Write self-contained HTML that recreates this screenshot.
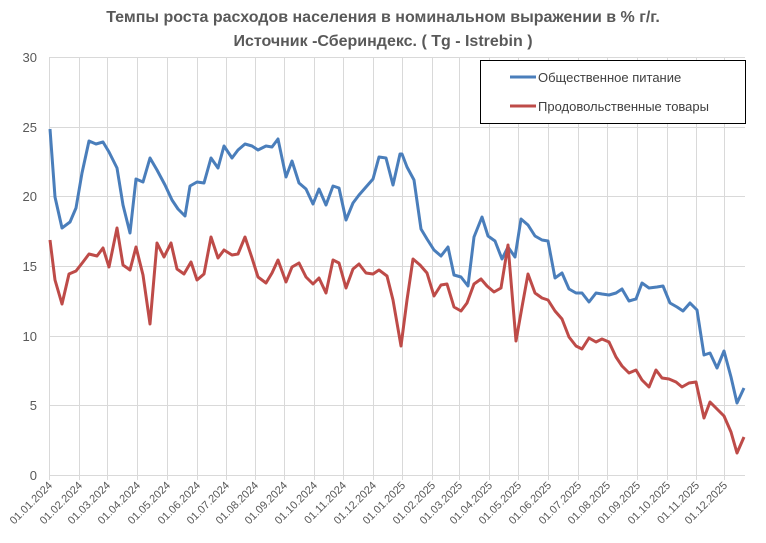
<!DOCTYPE html>
<html><head><meta charset="utf-8"><style>
html,body{margin:0;padding:0;background:#fff;}
svg{display:block;font-family:"Liberation Sans","DejaVu Sans",sans-serif;}
</style></head><body>
<svg width="766" height="543" viewBox="0 0 766 543" xmlns="http://www.w3.org/2000/svg">
<rect width="766" height="543" fill="#fff"/>
<text x="383" y="22" text-anchor="middle" font-size="16" font-weight="bold" fill="#595959">Темпы роста расходов населения в номинальном выражении в % г/г.</text>
<text x="383" y="46" text-anchor="middle" font-size="16" font-weight="bold" fill="#595959">Источник -Сбериндекс. ( Tg - Istrebin )</text>
<g stroke="#d9d9d9" stroke-width="1">
<line x1="49" y1="57.5" x2="745" y2="57.5"/>
<line x1="49" y1="127.5" x2="745" y2="127.5"/>
<line x1="49" y1="196.5" x2="745" y2="196.5"/>
<line x1="49" y1="266.5" x2="745" y2="266.5"/>
<line x1="49" y1="336.5" x2="745" y2="336.5"/>
<line x1="49" y1="405.5" x2="745" y2="405.5"/>
<line x1="49" y1="475.5" x2="745" y2="475.5"/>
<line x1="49.5" y1="57" x2="49.5" y2="480"/><line x1="79.5" y1="57" x2="79.5" y2="480"/><line x1="107.5" y1="57" x2="107.5" y2="480"/><line x1="137.5" y1="57" x2="137.5" y2="480"/><line x1="167.5" y1="57" x2="167.5" y2="480"/><line x1="197.5" y1="57" x2="197.5" y2="480"/><line x1="226.5" y1="57" x2="226.5" y2="480"/><line x1="255.5" y1="57" x2="255.5" y2="480"/><line x1="284.5" y1="57" x2="284.5" y2="480"/><line x1="314.5" y1="57" x2="314.5" y2="480"/><line x1="343.5" y1="57" x2="343.5" y2="480"/><line x1="373.5" y1="57" x2="373.5" y2="480"/><line x1="402.5" y1="57" x2="402.5" y2="480"/><line x1="432.5" y1="57" x2="432.5" y2="480"/><line x1="459.5" y1="57" x2="459.5" y2="480"/><line x1="489.5" y1="57" x2="489.5" y2="480"/><line x1="518.5" y1="57" x2="518.5" y2="480"/><line x1="548.5" y1="57" x2="548.5" y2="480"/><line x1="578.5" y1="57" x2="578.5" y2="480"/><line x1="607.5" y1="57" x2="607.5" y2="480"/><line x1="637.5" y1="57" x2="637.5" y2="480"/><line x1="667.5" y1="57" x2="667.5" y2="480"/><line x1="696.5" y1="57" x2="696.5" y2="480"/><line x1="724.5" y1="57" x2="724.5" y2="480"/>
</g>
<g font-size="13" fill="#595959" text-anchor="end">
<text x="37" y="62">30</text><text x="37" y="132">25</text><text x="37" y="201">20</text><text x="37" y="271">15</text><text x="37" y="341">10</text><text x="37" y="410">5</text><text x="37" y="480">0</text>
</g>
<g font-size="11" fill="#595959" text-anchor="end">
<text transform="translate(53,486) rotate(-45)">01.01.2024</text>
<text transform="translate(83,486) rotate(-45)">01.02.2024</text>
<text transform="translate(111,486) rotate(-45)">01.03.2024</text>
<text transform="translate(141,486) rotate(-45)">01.04.2024</text>
<text transform="translate(171,486) rotate(-45)">01.05.2024</text>
<text transform="translate(201,486) rotate(-45)">01.06.2024</text>
<text transform="translate(230,486) rotate(-45)">01.07.2024</text>
<text transform="translate(259,486) rotate(-45)">01.08.2024</text>
<text transform="translate(288,486) rotate(-45)">01.09.2024</text>
<text transform="translate(318,486) rotate(-45)">01.10.2024</text>
<text transform="translate(347,486) rotate(-45)">01.11.2024</text>
<text transform="translate(377,486) rotate(-45)">01.12.2024</text>
<text transform="translate(406,486) rotate(-45)">01.01.2025</text>
<text transform="translate(436,486) rotate(-45)">01.02.2025</text>
<text transform="translate(463,486) rotate(-45)">01.03.2025</text>
<text transform="translate(493,486) rotate(-45)">01.04.2025</text>
<text transform="translate(522,486) rotate(-45)">01.05.2025</text>
<text transform="translate(552,486) rotate(-45)">01.06.2025</text>
<text transform="translate(582,486) rotate(-45)">01.07.2025</text>
<text transform="translate(611,486) rotate(-45)">01.08.2025</text>
<text transform="translate(641,486) rotate(-45)">01.09.2025</text>
<text transform="translate(671,486) rotate(-45)">01.10.2025</text>
<text transform="translate(700,486) rotate(-45)">01.11.2025</text>
<text transform="translate(728,486) rotate(-45)">01.12.2025</text>
</g>
<polyline fill="none" stroke="#4a7ebb" stroke-width="3" stroke-linejoin="round" points="50,129 55,197 62,228 70,222 76,208 82,173 89,141 96,144 103,142 109,152 117,168 123,205 130,233 136,179 143,182 150,158 157,170 165,185 172,200 178,209 185,216 190,186 197,182 204,183 211,158 218,168 224,146 232,158 238,150 245,144 252,146 258,150 266,146 272,147 278,139 286,177 292,161 299,183 306,189 313,204 319,189 326,205 333,186 339,188 346,220 353,203 359,195 366,187 373,179 379,157 386,158 393,185 400,154 402,154 407,167 414,180 421,229 427,239 434,250 441,256 448,247 454,275 461,277 468,286 474,237 482,217 488,236 495,241 502,259 508,247 515,257 521,219 528,225 535,236 542,240 548,241 555,278 562,273 569,289 576,293 582,293 589,302 596,293 602,294 609,295 616,293 622,289 629,301 636,299 642,283 649,288 657,287 663,286 670,303 677,307 683,311 690,303 697,310 704,355 710,353 717,368 724,351 731,377 737,403 744,388"/>
<polyline fill="none" stroke="#be4b48" stroke-width="3" stroke-linejoin="round" points="50,240 55,280 62,304 69,274 76,271 83,262 89,254 97,256 103,248 109,267 117,228 123,265 130,270 136,247 143,275 150,324 157,243 164,257 171,243 177,269 184,274 191,262 197,280 204,274 211,237 218,258 224,250 232,255 238,254 245,237 252,258 258,277 266,283 272,273 278,260 286,282 292,267 299,263 306,277 313,284 319,278 326,293 333,260 339,263 346,288 353,269 359,264 366,273 373,274 379,270 387,276 393,300 401,346 407,300 413,259 420,265 427,273 434,296 441,285 447,284 454,307 461,311 467,303 474,284 481,279 487,286 494,292 501,288 508,245 516,341 522,307 528,274 535,293 542,298 548,300 555,311 562,319 569,337 576,346 582,349 589,338 596,342 602,339 609,342 616,357 622,366 629,373 636,370 642,380 649,387 656,370 662,378 669,379 676,382 682,387 689,383 696,382 704,418 710,402 717,409 724,416 731,432 737,453 744,437"/>
<rect x="480.5" y="60.5" width="265" height="63" fill="#fff" stroke="#000" stroke-width="1"/>
<line x1="510" y1="77" x2="536" y2="77" stroke="#4a7ebb" stroke-width="3"/>
<line x1="510" y1="106" x2="536" y2="106" stroke="#be4b48" stroke-width="3"/>
<g font-size="13" fill="#404040">
<text x="538" y="82">Общественное питание</text>
<text x="538" y="111">Продовольственные товары</text>
</g>
</svg>
</body></html>
